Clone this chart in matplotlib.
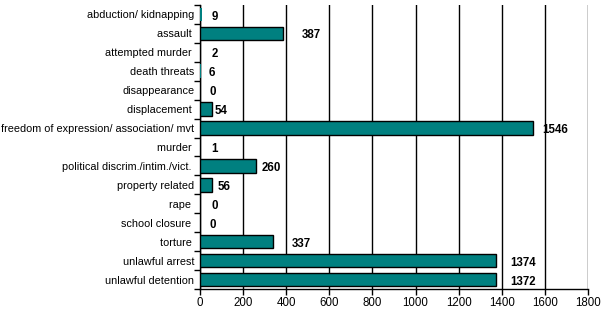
import matplotlib
matplotlib.use("Agg")
import matplotlib.pyplot as plt
import numpy as np

categories = ["abduction/ kidnapping", "assault ", "attempted murder ", "death threats",
              "disappearance", "displacement ", "freedom of expression/ association/ mvt",
              "murder ", "political discrim./intim./vict. ", "property related", "rape ",
              "school closure ", "torture ", "unlawful arrest", "unlawful detention"]
values = [9, 387, 2, 6, 0, 54, 1546, 1, 260, 56, 0, 0, 337, 1374, 1372]
bar_lengths = [9, 387, 2, 6, 0, 54, 1546, 1, 260, 56, 0, 0, 337, 1374, 1372]
xticks = [0, 200, 400, 600, 800, 1000, 1200, 1400, 1600, 1800]

# label horizontal offsets in pixels (style)
label_offsets = [10, 18, 11, 7, 9, 3, 9, 11, 6, 6, 11, 9, 19, 14, 15]

plt.rcParams['font.family'] = ['Liberation Sans', 'DejaVu Sans']
fig = plt.figure(figsize=(6.04, 3.14), dpi=100)
ax = fig.add_axes([200/604, 1-289/314, 388/604, 284/314])

n = len(categories)
y = np.arange(n)
bars = ax.barh(y, bar_lengths, height=0.72, color="#008080", edgecolor="black", linewidth=1, zorder=3)
for b, bl in zip(bars, bar_lengths):
    if bl < 15:
        b.set_linewidth(0)
ax.set_ylim(n - 0.5, -0.5)
ax.set_xlim(0, 1800)
ax.set_xticks(xticks)
ax.set_xticklabels([str(t) for t in xticks], fontsize=8.3)
ax.grid(axis="x", color="black", linewidth=1, zorder=0)
ax.set_yticks(y)
ax.set_yticklabels(categories, fontsize=7.8)
ax.tick_params(axis="y", which="major", length=0, pad=4)
ax.set_yticks(np.arange(-0.5, n + 0.5, 1), minor=True)
ax.tick_params(axis="y", which="minor", length=4, width=1, color="black")
ax.tick_params(axis="x", length=4, width=1, color="black", pad=2)
for s in ["top", "right"]:
    ax.spines[s].set_visible(False)
for s in ["left", "bottom"]:
    ax.spines[s].set_linewidth(1)
    ax.spines[s].set_color("black")

for yi, v, bl, off in zip(y, values, bar_lengths, label_offsets):
    ax.annotate(str(v), (bl, yi), xytext=(off * 0.72, -1.5), textcoords="offset points",
                ha="left", va="center", fontsize=8.3, fontweight="bold", zorder=4)

fig.savefig("out.png", dpi=100)
